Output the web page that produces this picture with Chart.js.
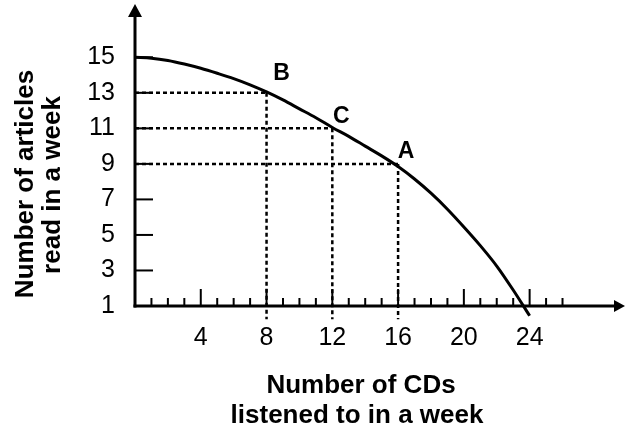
<!DOCTYPE html>
<html>
<head>
<meta charset="utf-8">
<script src="https://cdn.jsdelivr.net/npm/chart.js@4/dist/chart.umd.min.js"></script>
<style>
html,body{margin:0;padding:0;background:#fff;}
#wrap{width:626px;height:432px;}
</style>
</head>
<body>
<div id="wrap"><canvas id="c" width="626" height="432"></canvas></div>
<script>
// ---- data ----
const curveX = [0,1,2,3,4,5,6,7,8,9,10,11,12,13,14,15,16,17,18,19,20,21,22,23,24];
const curveY = [15,14.95,14.82,14.62,14.38,14.1,13.8,13.45,13.05,12.6,12.1,11.6,11.05,10.55,10.0,9.45,8.85,8.15,7.35,6.45,5.45,4.4,3.25,1.9,0.45];
const pointX = [8,12,16];
const pointY = [13,11,9];
const pointLabels = ['B','C','A'];
const xTicks = [4,8,12,16,20,24];
const yTicks = [1,3,5,7,9,11,13,15];
const xMinorTicks = [1,2,3,4,5,6,7,8,9,10,11,12,13,14,15,16,17,18,19,20,21,22,23,24,25,26];
const xTitle = ['Number of CDs','listened to in a week'];
const yTitle = ['Number of articles','read in a week'];

const FONT = "'Liberation Sans', Arial, Helvetica, sans-serif";
const DROP = 0.25; // vertical guides extend slightly below the axis

const datasets = [];
datasets.push({
  data: curveX.map((x,i)=>({x:x,y:curveY[i]})),
  borderColor:'#000', borderWidth:3, pointRadius:0, showLine:true,
  cubicInterpolationMode:'monotone', clip:false
});
pointX.forEach((px,i)=>{
  datasets.push({
    data:[{x:0,y:pointY[i]},{x:px,y:pointY[i]}],
    borderColor:'#000', borderWidth:2.5, borderDash:[4,3], pointRadius:0, showLine:true, clip:false
  });
  datasets.push({
    data:[{x:px,y:pointY[i]},{x:px,y:DROP}],
    borderColor:'#000', borderWidth:2.5, borderDash:[4,3], pointRadius:0, showLine:true, clip:false
  });
});

const axesPlugin = {
  id:'axesPlugin',
  beforeDatasetsDraw(chart){
    const {ctx, chartArea, scales:{x,y}} = chart;
    const x0 = x.getPixelForValue(0), y0 = y.getPixelForValue(1);
    ctx.save();
    ctx.strokeStyle='#000'; ctx.fillStyle='#000';
    ctx.lineWidth=3;
    ctx.beginPath(); ctx.moveTo(x0, y0+1.5); ctx.lineTo(x0, chartArea.top+10); ctx.stroke();
    ctx.beginPath(); ctx.moveTo(x0, chartArea.top); ctx.lineTo(x0-7, chartArea.top+13); ctx.lineTo(x0+7, chartArea.top+13); ctx.closePath(); ctx.fill();
    ctx.beginPath(); ctx.moveTo(x0-1.5, y0); ctx.lineTo(chartArea.right-8, y0); ctx.stroke();
    ctx.beginPath(); ctx.moveTo(chartArea.right, y0); ctx.lineTo(chartArea.right-11, y0-6); ctx.lineTo(chartArea.right-11, y0+6); ctx.closePath(); ctx.fill();
    ctx.lineWidth=2;
    yTicks.forEach(v=>{
      if(v===1) return;
      const py=y.getPixelForValue(v);
      ctx.beginPath(); ctx.moveTo(x0,py); ctx.lineTo(x0+18,py); ctx.stroke();
    });
    xMinorTicks.forEach(v=>{
      const px=x.getPixelForValue(v);
      const len = xTicks.includes(v)?17:8;
      ctx.beginPath(); ctx.moveTo(px,y0); ctx.lineTo(px,y0-len); ctx.stroke();
    });
    ctx.restore();
  },
  afterDatasetsDraw(chart){
    const {ctx, scales:{x,y}} = chart;
    ctx.save();
    ctx.fillStyle='#000';
    ctx.font = "bold 23px " + FONT;
    ctx.textAlign='center'; ctx.textBaseline='middle';
    const offs = [[15,-19],[9,-12],[8,-12]];
    pointX.forEach((px,i)=>{
      ctx.fillText(pointLabels[i], x.getPixelForValue(px)+offs[i][0], y.getPixelForValue(pointY[i])+offs[i][1]);
    });
    ctx.font = "bold 26px " + FONT;
    ctx.textBaseline='alphabetic';
    ctx.fillText(xTitle[0], 361, 393);
    ctx.fillText(xTitle[1], 357, 423);
    ctx.save(); ctx.translate(33,184); ctx.rotate(-Math.PI/2); ctx.fillText(yTitle[0],0,0); ctx.restore();
    ctx.save(); ctx.translate(60,185); ctx.rotate(-Math.PI/2); ctx.fillText(yTitle[1],0,0); ctx.restore();
    ctx.restore();
  }
};

new Chart(document.getElementById('c'), {
  type:'scatter',
  data:{datasets:datasets},
  options:{
    responsive:false, devicePixelRatio:1, animation:false,
    layout:{autoPadding:false, padding:{top:4,right:1,left:0,bottom:0}},
    plugins:{legend:{display:false}, tooltip:{enabled:false}},
    scales:{
      x:{
        type:'linear', min:0, max:29.8,
        grid:{display:false, drawTicks:false}, border:{display:false},
        afterBuildTicks:(s)=>{ s.ticks = xTicks.map(v=>({value:v})); },
        afterFit:(s)=>{ s.height = 126; s.paddingLeft = 0; s.paddingRight = 0; s.paddingTop = 0; s.paddingBottom = 0; },
        ticks:{color:'#000', font:{family:FONT, size:25}, padding:17, maxRotation:0, autoSkip:false}
      },
      y:{
        type:'linear', min:1, max:18,
        grid:{display:false, drawTicks:false}, border:{display:false},
        afterBuildTicks:(s)=>{ s.ticks = yTicks.map(v=>({value:v})); },
        afterFit:(s)=>{ s.width = 135; s.paddingTop = 0; s.paddingBottom = 0; s.paddingLeft = 0; s.paddingRight = 0; },
        ticks:{color:'#000', font:{family:FONT, size:25}, padding:20, autoSkip:false}
      }
    }
  },
  plugins:[axesPlugin]
});
</script>
</body>
</html>
